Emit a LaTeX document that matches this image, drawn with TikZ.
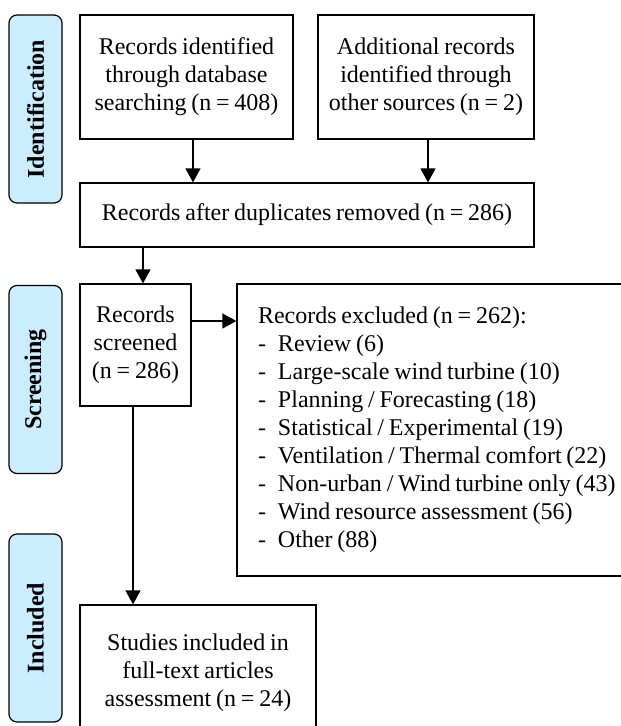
\documentclass[tikz,border=0pt]{standalone}
\usepackage{fontspec}
\setmainfont[WordSpace=0.8]{Liberation Serif}
\usetikzlibrary{arrows.meta}
\definecolor{stagefill}{RGB}{204,236,255}
\begin{document}
\begin{tikzpicture}[x=1pt,y=-1pt,
  box/.style={draw,line width=1.2pt,align=center,inner sep=0pt,font=\fontsize{24}{28}\selectfont},
  stage/.style={draw,line width=1.2pt,rounded corners=8pt,fill=stagefill,rotate=90,
    minimum width=188pt,minimum height=53pt,inner sep=0pt,font=\fontsize{24}{28}\selectfont\bfseries},
  arr/.style={line width=1.2pt,-{Triangle[length=14pt,width=15pt]}}]
\useasboundingbox (0,0) rectangle (621,726);
\clip (0,0) rectangle (621,726);

\node[stage] (ident) at (35.5,109) {Identification};
\node[stage] (screen) at (35.5,379.5) {Screening};
\node[stage] (incl) at (35.5,628) {Included};

\node[box,minimum width=213pt,minimum height=124pt] (b1) at (186.5,77)
  {Records identified\\through database\\searching (n = 408)};
\node[box,minimum width=216pt,minimum height=124pt] (b2) at (426,77)
  {Additional records\\identified through\\other sources (n = 2)};
\node[box,minimum width=454pt,minimum height=64pt] (b3) at (307,215)
  {Records after duplicates removed (n = 286)};
\node[box,minimum width=111pt,minimum height=122pt] (b4) at (135.5,345)
  {Records\\screened\\(n = 286)};
\node[box,align=flush left,text width=381pt,inner xsep=21pt,minimum height=292pt] (b5) at (448.5,430)
  {Records excluded (n = 262):\\
   \makebox[20pt][l]{-}Review (6)\\
   \makebox[20pt][l]{-}Large-scale wind turbine (10)\\
   \makebox[20pt][l]{-}Planning / Forecasting (18)\\
   \makebox[20pt][l]{-}Statistical / Experimental (19)\\
   \makebox[20pt][l]{-}Ventilation / Thermal comfort (22)\\
   \makebox[20pt][l]{-}Non-urban / Wind turbine only (43)\\
   \makebox[20pt][l]{-}Wind resource assessment (56)\\
   \makebox[20pt][l]{-}Other (88)};
\node[box,minimum width=236pt,minimum height=135pt] (b6) at (198,672.5)
  {Studies included in\\full-text articles\\assessment (n = 24)};

\draw[arr] ([xshift=6.5]b1.south) -- ([xshift=6.5]b1.south |- b3.north);
\draw[arr] ([xshift=2]b2.south) -- ([xshift=2]b2.south |- b3.north);
\draw[arr] ([xshift=7.5]b4.north |- b3.south) -- ([xshift=7.5]b4.north);
\draw[arr] ([yshift=24]b4.east) -- ([yshift=24]b4.east -| b5.west);
\draw[arr] ([xshift=-2.5]b4.south) -- ([xshift=-2.5]b4.south |- b6.north);
\end{tikzpicture}
\end{document}
